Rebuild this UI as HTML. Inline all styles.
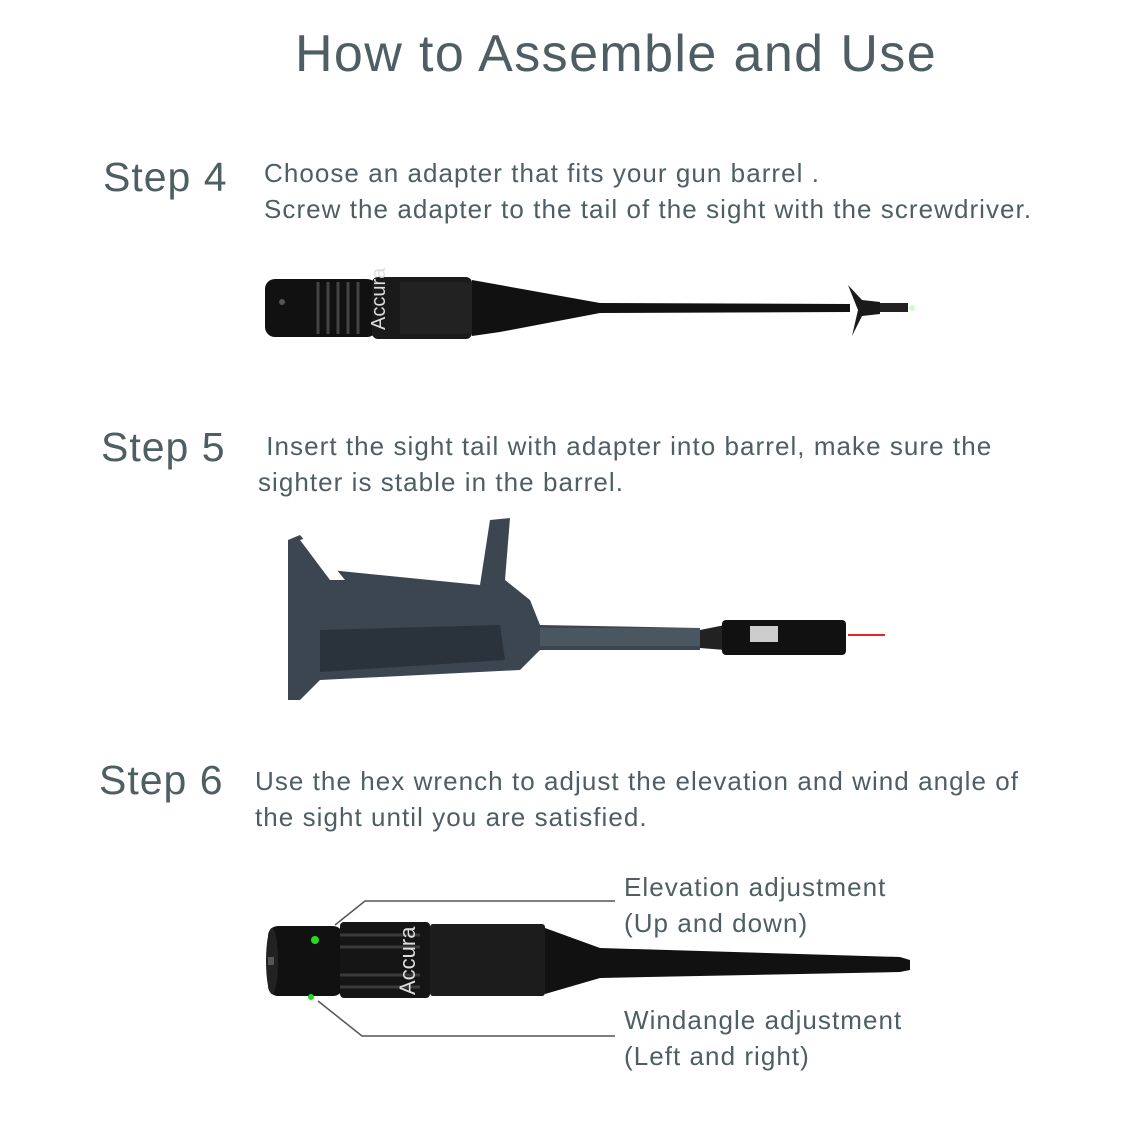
<!DOCTYPE html>
<html><head><meta charset="utf-8">
<style>
html,body{margin:0;padding:0;background:#fff;}
body{width:1127px;height:1127px;position:relative;overflow:hidden;font-family:"Liberation Sans",sans-serif;color:#4e5e62;}
.t{position:absolute;white-space:nowrap;}
.title{left:0;width:1232px;text-align:center;top:24px;font-size:52px;letter-spacing:1.4px;}
.step{font-size:41px;letter-spacing:1px;}
.body{font-size:26px;line-height:36px;letter-spacing:1.05px;}
svg{position:absolute;left:0;top:0;}
</style></head><body>
<div class="t title">How to Assemble and Use</div>

<div class="t step" style="left:103px;top:154px">Step 4</div>
<div class="t body" style="left:264px;top:155px">Choose an adapter that fits your gun barrel .<br>Screw the adapter to the tail of the sight with the screwdriver.</div>

<div class="t step" style="left:101px;top:424px">Step 5</div>
<div class="t body" style="left:258px;top:428px">&nbsp;Insert the sight tail with adapter into barrel, make sure the<br>sighter is stable in the barrel.</div>

<div class="t step" style="left:99px;top:757px">Step 6</div>
<div class="t body" style="left:255px;top:763px">Use the hex wrench to adjust the elevation and wind angle of<br>the sight until you are satisfied.</div>

<div class="t body" style="left:624px;top:869px">Elevation adjustment<br>(Up and down)</div>
<div class="t body" style="left:624px;top:1002px">Windangle adjustment<br>(Left and right)</div>

<svg width="1127" height="1127" viewBox="0 0 1127 1127">
<g>
<rect x="265" y="279" width="112" height="58" rx="10" fill="#111"/>
<g stroke="#444" stroke-width="3">
<line x1="318" y1="282" x2="318" y2="334"/><line x1="328" y1="282" x2="328" y2="334"/><line x1="338" y1="282" x2="338" y2="334"/><line x1="348" y1="282" x2="348" y2="334"/><line x1="358" y1="282" x2="358" y2="334"/>
</g>
<circle cx="282" cy="302" r="3" fill="#555"/>
<rect x="372" y="277" width="100" height="62" rx="6" fill="#1a1a1a"/>
<text x="385" y="330" fill="#ddd" font-size="20" transform="rotate(-90 385 330)" font-family="Liberation Sans">Accura</text>
<rect x="400" y="282" width="72" height="52" fill="#222"/>
<path d="M472 280 L500 285 L600 303 L850 304 L850 312 L600 313 L500 332 L472 336 Z" fill="#111"/>
<path d="M848 285 L862 300 L880 302 L880 314 L862 316 L852 336 L858 310 Z" fill="#1a1a1a"/>
<rect x="880" y="303" width="28" height="9" fill="#222"/>
<circle cx="912" cy="308" r="3" fill="#cfc"/>
</g>
<g fill="#3b4650">
<path d="M288 540 L300 535 L330 570 L480 585 L490 520 L510 518 L505 580 L530 600 L540 625 L700 628 L700 650 L540 650 L520 670 L320 680 L300 700 L288 700 Z"/>
<path d="M300 540 L330 580 L345 580 L310 537 Z" fill="#fff"/>
</g>
<path d="M320 630 L500 625 L505 660 L320 672 Z" fill="#2a333b"/>
<rect x="540" y="628" width="160" height="18" fill="#4a5660"/>
<path d="M700 630 L725 625 L725 650 L700 648 Z" fill="#222"/>
<rect x="722" y="620" width="124" height="35" rx="4" fill="#111"/>
<rect x="750" y="626" width="28" height="16" fill="#ccc"/>
<line x1="848" y1="635" x2="885" y2="635" stroke="#e22" stroke-width="2"/>
<g>
<rect x="268" y="926" width="75" height="70" rx="10" fill="#111"/>
<ellipse cx="272" cy="961" rx="6" ry="33" fill="#222"/>
<rect x="268" y="957" width="6" height="8" fill="#555"/>
<rect x="340" y="922" width="90" height="76" rx="4" fill="#151515"/>
<g stroke="#3a3a3a" stroke-width="3">
<line x1="340" y1="935" x2="420" y2="935"/><line x1="340" y1="947" x2="420" y2="947"/><line x1="340" y1="975" x2="420" y2="975"/><line x1="340" y1="987" x2="420" y2="987"/>
</g>
<text x="415" y="995" fill="#ddd" font-size="22" transform="rotate(-90 415 995)" font-family="Liberation Sans">Accura</text>
<rect x="430" y="924" width="115" height="72" rx="3" fill="#1c1c1c"/>
<path d="M545 928 L600 948 L900 957 L910 960 L910 970 L900 972 L600 978 L545 994 Z" fill="#111"/>
<circle cx="315" cy="940" r="4" fill="#2d2"/>
<circle cx="311" cy="997" r="3" fill="#2d2"/>
</g>
<g stroke="#555" stroke-width="1.5" fill="none">
<polyline points="335,925 365,901 615,901"/>
<polyline points="318,1001 362,1036 615,1036"/>
</g>
</svg>
</body></html>
